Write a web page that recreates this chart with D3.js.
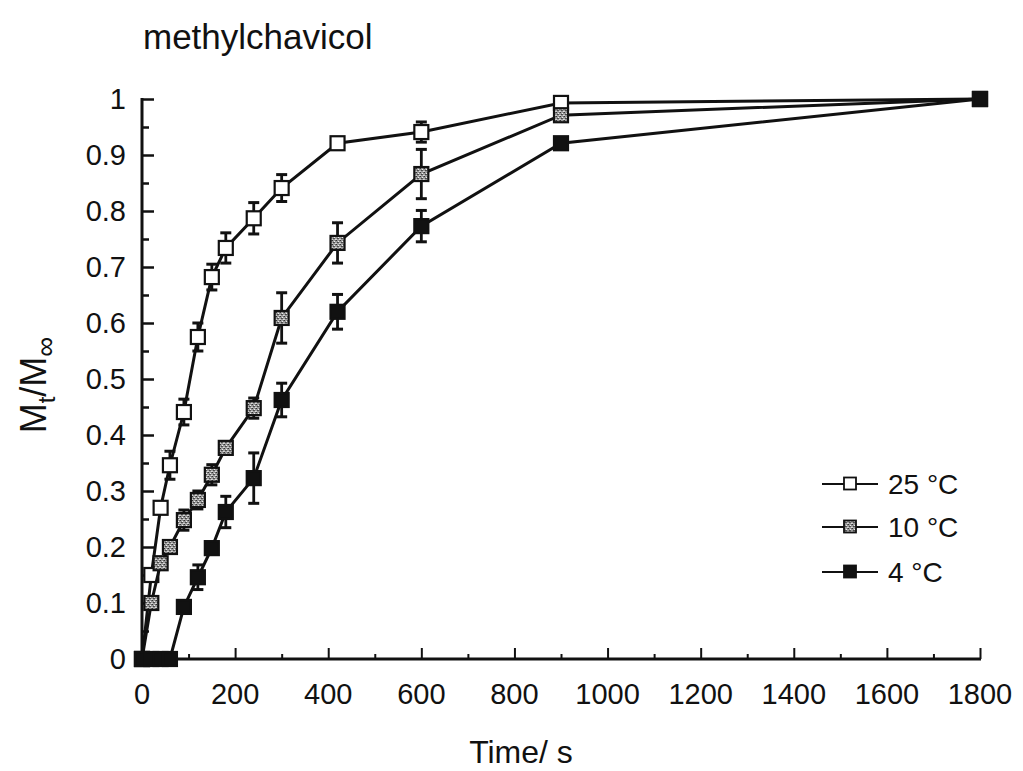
<!DOCTYPE html>
<html>
<head>
<meta charset="utf-8">
<script src="https://cdn.jsdelivr.net/npm/d3@7"></script>
<style>
  html, body { margin: 0; padding: 0; background: #fff; }
  svg text { font-family: "Liberation Sans", Arial, sans-serif; fill: #111; }
</style>
</head>
<body>
<svg id="chart" width="1023" height="771"></svg>
<script>
// Sorption kinetics of methylchavicol at three temperatures
const times = [0, 20, 40, 60, 90, 120, 150, 180, 240, 300, 420, 600, 900, 1800];
const xTicks = [0, 200, 400, 600, 800, 1000, 1200, 1400, 1600, 1800];
const yTicks = [0, 0.1, 0.2, 0.3, 0.4, 0.5, 0.6, 0.7, 0.8, 0.9, 1];
const seriesNames = ["25 °C", "10 °C", "4 °C"];

const values25 = [0, 0.15, 0.27, 0.346, 0.441, 0.575, 0.682, 0.734, 0.787, 0.841, 0.921, 0.941, 0.993, 1.0];
const errors25 = [0, 0.01, 0.012, 0.025, 0.023, 0.025, 0.023, 0.027, 0.028, 0.024, 0.006, 0.018, 0.008, 0];

const values10 = [0, 0.1, 0.171, 0.2, 0.248, 0.284, 0.329, 0.377, 0.448, 0.609, 0.743, 0.866, 0.971, 1.0];
const errors10 = [0, 0.008, 0.01, 0.01, 0.018, 0.016, 0.018, 0.01, 0.018, 0.045, 0.036, 0.044, 0.008, 0];

const values4 = [0, 0, 0, 0, 0.093, 0.146, 0.198, 0.2625, 0.323, 0.4625, 0.62, 0.773, 0.921, 1.0];
const errors4 = [0, 0, 0, 0, 0.008, 0.022, 0.01, 0.028, 0.045, 0.03, 0.031, 0.028, 0.006, 0];

const svg = d3.select("#chart");

// stippled grey fill used for the 10 °C markers
const defs = svg.append("defs");
const pat = defs.append("pattern")
  .attr("id", "stipple").attr("patternUnits", "userSpaceOnUse")
  .attr("width", 4).attr("height", 4);
pat.append("rect").attr("width", 4).attr("height", 4).attr("fill", "#9a9a9a");
[[0,0,"#333"],[2,1,"#eee"],[1,2,"#444"],[3,3,"#ddd"],[3,0,"#666"],[0,3,"#ccc"],[2,2,"#555"]]
  .forEach(([x, y, c]) => pat.append("rect").attr("x", x).attr("y", y)
    .attr("width", 1).attr("height", 1).attr("fill", c));

const x = d3.scaleLinear().domain([0, 1800]).range([142, 980]);
const y = d3.scaleLinear().domain([0, 1]).range([659, 99]);

// axes: ticks pointing inward, minor ticks halfway between majors
const yAxis = d3.axisRight(y).tickValues(d3.range(0, 1.0001, 0.05)).tickSize(0).tickFormat("");
const gy = svg.append("g").attr("transform", `translate(${x(0)},0)`).call(yAxis);
gy.select(".domain").remove();
gy.selectAll(".tick line").remove();
gy.selectAll(".tick").append("line")
  .attr("x1", 0).attr("x2", (d, i) => i % 2 === 0 ? 12 : 7)
  .attr("stroke", "#111").attr("stroke-width", 2.5);
svg.append("line").attr("x1", x(0)).attr("x2", x(0)).attr("y1", y(0) + 1).attr("y2", y(1) - 1)
  .attr("stroke", "#111").attr("stroke-width", 3);

const xAxis = d3.axisTop(x).tickValues(d3.range(0, 1801, 100)).tickSize(0).tickFormat("");
const gx = svg.append("g").attr("transform", `translate(0,${y(0)})`).call(xAxis);
gx.select(".domain").remove();
gx.selectAll(".tick line").remove();
gx.selectAll(".tick").append("line")
  .attr("y1", 0).attr("y2", (d, i) => i % 2 === 0 ? -11 : -5)
  .attr("stroke", "#111").attr("stroke-width", 2);
svg.append("line").attr("x1", x(0) - 1).attr("x2", x(1800) + 1).attr("y1", y(0)).attr("y2", y(0))
  .attr("stroke", "#111").attr("stroke-width", 3);

// tick labels
svg.append("g").selectAll("text").data(yTicks).join("text")
  .attr("x", 126).attr("y", d => y(d) + 10)
  .attr("text-anchor", "end").attr("font-size", 29)
  .text(d => d3.format("~g")(d));

svg.append("g").selectAll("text").data(xTicks).join("text")
  .attr("x", d => x(d)).attr("y", 704)
  .attr("text-anchor", "middle").attr("font-size", 29)
  .text(d => d);

// titles
svg.append("text").attr("x", 143).attr("y", 49).attr("font-size", 35).text("methylchavicol");
svg.append("text").attr("x", 521).attr("y", 763).attr("text-anchor", "middle")
  .attr("font-size", 32).text("Time/ s");

const yl = svg.append("text").attr("transform", "translate(46,385) rotate(-90)")
  .attr("text-anchor", "middle").attr("font-size", 36);
yl.append("tspan").text("M");
yl.append("tspan").attr("font-size", 24).attr("dy", 9).text("t");
yl.append("tspan").attr("dy", -9).text("/M");
yl.append("tspan").attr("font-size", 28).attr("dy", 9).text("∞");

// series
const fills = ["#fff", "url(#stipple)", "#111"];
const allValues = [values25, values10, values4];
const allErrors = [errors25, errors10, errors4];
const line = d3.line().x(d => x(d.t)).y(d => y(d.v));
const ms = 14;

allValues.forEach((vals, s) => {
  const data = times.map((t, i) => ({ t, v: vals[i], e: allErrors[s][i] }));
  const g = svg.append("g");
  g.append("path").datum(data).attr("d", line)
    .attr("fill", "none").attr("stroke", "#111").attr("stroke-width", 3);
  const eb = g.selectAll("g.err").data(data.filter(d => d.e > 0.012)).join("g");
  eb.append("line").attr("x1", d => x(d.t)).attr("x2", d => x(d.t))
    .attr("y1", d => y(d.v - d.e)).attr("y2", d => y(d.v + d.e))
    .attr("stroke", "#111").attr("stroke-width", 2.8);
  [-1, 1].forEach(sg => eb.append("line")
    .attr("x1", d => x(d.t) - 5.5).attr("x2", d => x(d.t) + 5.5)
    .attr("y1", d => y(d.v + sg * d.e)).attr("y2", d => y(d.v + sg * d.e))
    .attr("stroke", "#111").attr("stroke-width", 3));
  g.selectAll("rect").data(data).join("rect")
    .attr("x", d => x(d.t) - ms / 2).attr("y", d => y(d.v) - ms / 2)
    .attr("width", ms).attr("height", ms)
    .attr("fill", fills[s]).attr("stroke", "#111").attr("stroke-width", 2.2);
});

// legend
const legY = [484, 527, 572];
const lg = svg.append("g");
seriesNames.forEach((name, i) => {
  lg.append("line").attr("x1", 822).attr("x2", 878).attr("y1", legY[i]).attr("y2", legY[i])
    .attr("stroke", "#111").attr("stroke-width", 2.2);
  lg.append("rect").attr("x", 844).attr("y", legY[i] - 6.5).attr("width", 12).attr("height", 12)
    .attr("fill", fills[i]).attr("stroke", "#111").attr("stroke-width", 1.8);
  lg.append("text").attr("x", 888).attr("y", legY[i] + 10).attr("font-size", 28).text(name);
});
</script>
</body>
</html>
